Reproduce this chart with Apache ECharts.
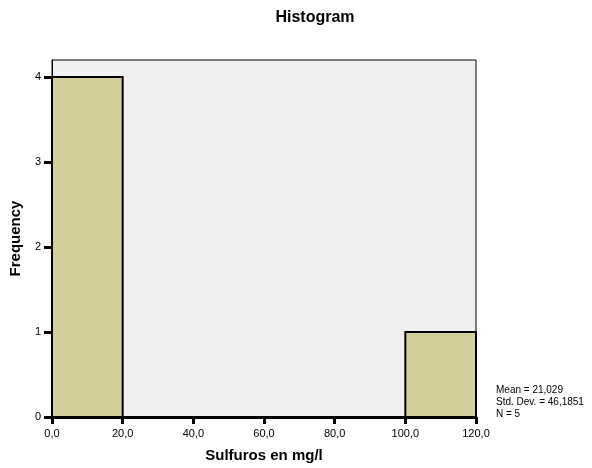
<!DOCTYPE html>
<html><head><meta charset="utf-8">
<script src="https://cdn.jsdelivr.net/npm/echarts@6/dist/echarts.min.js"></script>
<style>html,body{margin:0;padding:0;background:#fff}#c{width:592px;height:468px}</style>
</head><body><div id="c"></div>
<script>
const binStarts = [0, 20, 40, 60, 80, 100];
const binEnds = [20, 40, 60, 80, 100, 120];
const counts = [4, 0, 0, 0, 0, 1];
const xTicks = [0, 20, 40, 60, 80, 100, 120];
const yTicks = [0, 1, 2, 3, 4];
const statsLines = ['Mean = 21,029', 'Std. Dev. = 46,1851', 'N = 5'];

const font = 'Liberation Sans, Arial, sans-serif';
const chart = echarts.init(document.getElementById('c'), null, {renderer: 'canvas'});
chart.setOption({
  animation: false,
  backgroundColor: '#fff',
  grid: {
    left: 52, right: 116, top: 60, bottom: 49, show: true,
    backgroundColor: '#f0f0f0', borderColor: '#000', borderWidth: 1
  },
  xAxis: {
    type: 'value', min: 0, max: 120, interval: 20,
    name: 'Sulfuros en mg/l', nameLocation: 'middle', nameGap: 31,
    nameTextStyle: {fontFamily: font, fontSize: 15, fontWeight: 'bold', color: '#000'},
    axisLine: {show: true, lineStyle: {color: '#000', width: 3}},
    axisTick: {show: true, length: 7, lineStyle: {color: '#000', width: 3}, customValues: xTicks},
    axisLabel: {fontFamily: font, fontSize: 11, color: '#000', margin: 11, customValues: xTicks,
      formatter: v => v.toFixed(1).replace('.', ',')},
    splitLine: {show: false}
  },
  yAxis: {
    type: 'value', min: 0, max: 4.2, interval: 1,
    name: 'Frequency', nameLocation: 'middle', nameGap: 29,
    nameTextStyle: {fontFamily: font, fontSize: 15, fontWeight: 'bold', color: '#000'},
    axisLine: {show: true, lineStyle: {color: '#000', width: 1}},
    axisTick: {show: true, length: 8, lineStyle: {color: '#000', width: 3}, customValues: yTicks},
    axisLabel: {fontFamily: font, fontSize: 11, color: '#000', margin: 11, customValues: yTicks},
    splitLine: {show: false}
  },
  series: [{
    type: 'custom',
    data: binStarts.map((s, i) => [s, binEnds[i], counts[i]]),
    encode: {x: [0, 1], y: 2},
    renderItem: function (params, api) {
      const p0 = api.coord([api.value(0), 0]);
      const p1 = api.coord([api.value(1), api.value(2)]);
      if (api.value(2) === 0) return null;
      return {
        type: 'rect',
        shape: {x: p0[0], y: p1[1], width: p1[0] - p0[0], height: p0[1] - p1[1]},
        style: {fill: '#d3ce99', stroke: '#000', lineWidth: 2}
      };
    },
    z: 1
  }],
  graphic: [{
    type: 'text', x: 315, y: 18, z: 10,
    style: {text: 'Histogram', font: 'bold 16px ' + font, fill: '#000', align: 'center', verticalAlign: 'middle'}
  }, {
    type: 'text', left: 496, top: 384, z: 10,
    style: {text: statsLines.join('\n'), font: '10px ' + font, fill: '#000', lineHeight: 12}
  }]
});
</script></body></html>
